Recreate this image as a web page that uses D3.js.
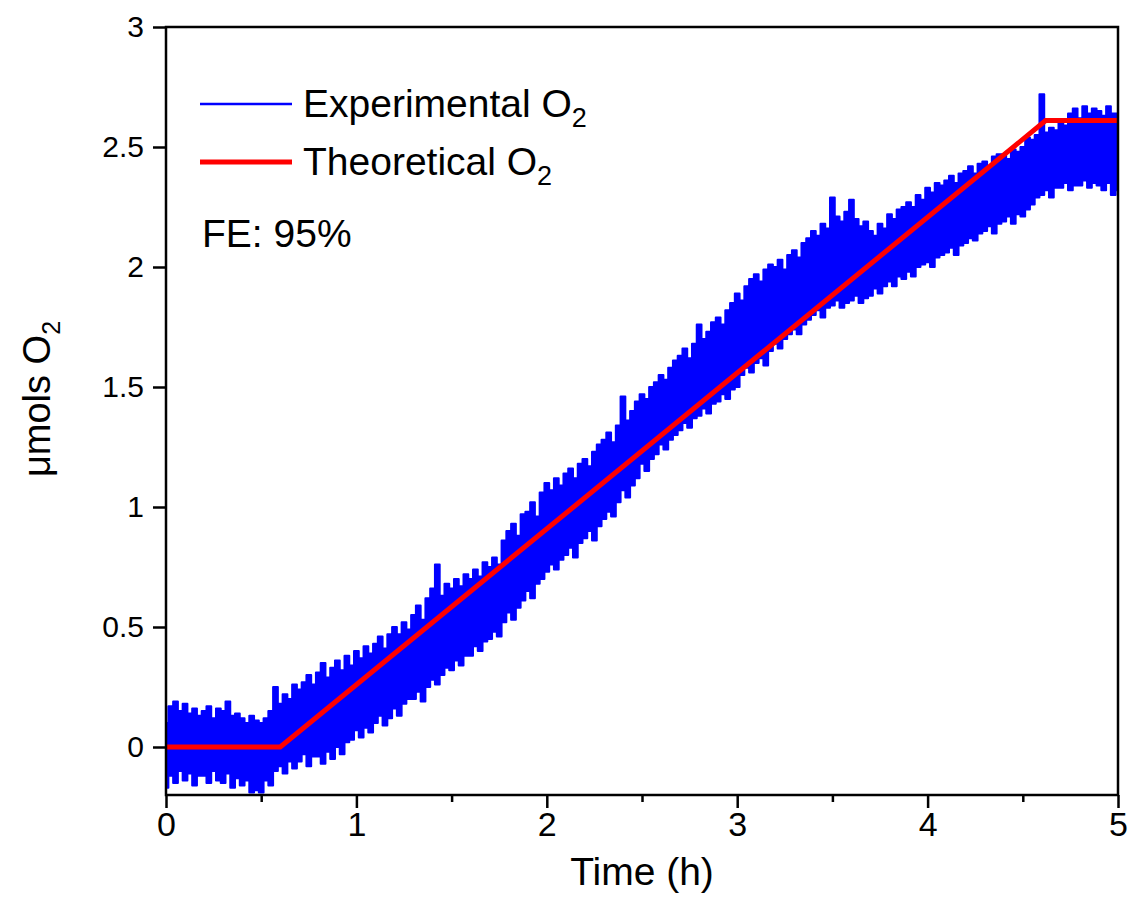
<!DOCTYPE html>
<html>
<head>
<meta charset="utf-8">
<script src="https://cdn.jsdelivr.net/npm/d3@7"></script>
<style>
  body { margin: 0; background: #fff; }
  text { font-family: Arial, "Liberation Sans", sans-serif; fill: #000; }
</style>
</head>
<body>
<svg id="chart" width="1132" height="917"></svg>
<script>
// time axis for the experimental trace, one reading every 0.025 h
const expStep = 0.025;
// upper edge of the noisy experimental O2 band (µmol)
const expHigh = [
  0.10, 0.17, 0.19, 0.15, 0.18, 0.14, 0.16, 0.13, 0.15, 0.17, 0.12, 0.16,
  0.15, 0.19, 0.13, 0.14, 0.12, 0.10, 0.13, 0.11, 0.10, 0.12, 0.15, 0.25,
  0.18, 0.22, 0.20, 0.26, 0.24, 0.27, 0.30, 0.26, 0.31, 0.35, 0.29, 0.33,
  0.36, 0.32, 0.38, 0.34, 0.40, 0.37, 0.42, 0.39, 0.43, 0.46, 0.41, 0.47,
  0.50, 0.47, 0.52, 0.49, 0.55, 0.59, 0.53, 0.62, 0.66, 0.76, 0.63, 0.68,
  0.66, 0.70, 0.67, 0.72, 0.70, 0.74, 0.71, 0.77, 0.75, 0.79, 0.76, 0.86,
  0.90, 0.93, 0.88, 0.97, 0.98, 1.02, 0.96, 1.06, 1.10, 1.07, 1.12, 1.09,
  1.14, 1.16, 1.12, 1.18, 1.20, 1.17, 1.23, 1.26, 1.28, 1.31, 1.27, 1.34,
  1.46, 1.36, 1.40, 1.44, 1.47, 1.45, 1.50, 1.52, 1.55, 1.53, 1.58, 1.61,
  1.63, 1.66, 1.62, 1.68, 1.76, 1.70, 1.73, 1.77, 1.79, 1.76, 1.82, 1.85,
  1.89, 1.86, 1.92, 1.95, 1.97, 1.94, 1.99, 2.01, 2.00, 2.03, 1.99, 2.05,
  2.07, 2.04, 2.10, 2.12, 2.15, 2.13, 2.18, 2.16, 2.29, 2.21, 2.19, 2.23,
  2.28, 2.20, 2.17, 2.19, 2.15, 2.13, 2.18, 2.16, 2.22, 2.20, 2.24, 2.25,
  2.27, 2.25, 2.30, 2.28, 2.33, 2.31, 2.35, 2.34, 2.36, 2.38, 2.35, 2.39,
  2.40, 2.42, 2.39, 2.43, 2.44, 2.42, 2.46, 2.47, 2.47, 2.45, 2.49, 2.48,
  2.50, 2.54, 2.53, 2.55, 2.72, 2.56, 2.58, 2.57, 2.60, 2.59, 2.64, 2.66,
  2.62, 2.67, 2.64, 2.66, 2.65, 2.63, 2.67, 2.64, 2.64
];
// lower edge of the same band
const expLow = [
  -0.17, -0.12, -0.15, -0.10, -0.14, -0.11, -0.16, -0.12, -0.12, -0.15, -0.10, -0.14,
  -0.15, -0.11, -0.17, -0.13, -0.16, -0.14, -0.19, -0.18, -0.19, -0.14, -0.16, -0.10,
  -0.08, -0.11, -0.06, -0.09, -0.06, -0.03, -0.08, -0.04, -0.04, -0.07, -0.02, -0.05,
  0.00, -0.03, 0.02, 0.03, 0.07, 0.04, 0.08, 0.06, 0.10, 0.13, 0.09, 0.12,
  0.16, 0.13, 0.18, 0.20, 0.20, 0.23, 0.19, 0.25, 0.28, 0.26, 0.30, 0.33,
  0.32, 0.36, 0.34, 0.38, 0.38, 0.42, 0.40, 0.44, 0.45, 0.48, 0.46, 0.52,
  0.56, 0.53, 0.58, 0.61, 0.65, 0.62, 0.68, 0.70, 0.73, 0.76, 0.74, 0.78,
  0.80, 0.83, 0.79, 0.85, 0.87, 0.90, 0.86, 0.92, 0.95, 0.98, 0.96, 1.02,
  1.07, 1.04, 1.09, 1.12, 1.18, 1.15, 1.20, 1.22, 1.26, 1.24, 1.28, 1.30,
  1.32, 1.35, 1.33, 1.37, 1.38, 1.41, 1.39, 1.43, 1.44, 1.47, 1.45, 1.49,
  1.50, 1.55, 1.58, 1.56, 1.60, 1.62, 1.59, 1.65, 1.68, 1.66, 1.70, 1.72,
  1.74, 1.72, 1.76, 1.78, 1.80, 1.82, 1.79, 1.83, 1.84, 1.86, 1.83, 1.85,
  1.86, 1.88, 1.85, 1.87, 1.88, 1.91, 1.89, 1.92, 1.94, 1.92, 1.96, 1.95,
  1.98, 1.96, 2.00, 2.01, 2.02, 2.00, 2.04, 2.05, 2.06, 2.08, 2.05, 2.09,
  2.10, 2.12, 2.11, 2.14, 2.15, 2.17, 2.14, 2.18, 2.19, 2.21, 2.18, 2.22,
  2.21, 2.24, 2.26, 2.29, 2.30, 2.32, 2.29, 2.33, 2.33, 2.35, 2.32, 2.34,
  2.34, 2.36, 2.33, 2.35, 2.34, 2.32, 2.35, 2.30, 2.32
];
// theoretical O2 from the passed charge
const theoTime = [0, 0.6, 4.62, 5];
const theoO2 = [0, 0, 2.61, 2.61];

const xTicks = [0, 1, 2, 3, 4, 5];
const xMinorTicks = [0.5, 1.5, 2.5, 3.5, 4.5];
const yTicks = [0, 0.5, 1, 1.5, 2, 2.5, 3];

const margin = {left: 166, top: 27, right: 14, bottom: 122};
const width = 1132 - margin.left - margin.right;
const height = 917 - margin.top - margin.bottom;

const svg = d3.select("#chart");
const g = svg.append("g")
  .attr("transform", "translate(" + margin.left + "," + margin.top + ")");

const x = d3.scaleLinear().domain([0, 5]).range([0, width]);
const y = d3.scaleLinear().domain([-0.2, 3]).range([height, 0]);

g.append("clipPath").attr("id", "plot-clip")
  .append("rect").attr("width", width).attr("height", height);

// experimental band
const expData = expHigh.map((h, i) => ({t: i * expStep, hi: h, lo: expLow[i]}));
const band = d3.area()
  .x(d => x(d.t))
  .y0(d => y(d.lo))
  .y1(d => y(d.hi))
  .curve(d3.curveStep);

g.append("path")
  .datum(expData)
  .attr("clip-path", "url(#plot-clip)")
  .attr("d", band)
  .attr("fill", "#0000ff")
  .attr("stroke", "#0000ff")
  .attr("stroke-width", 2)
  .attr("stroke-linejoin", "round");

// theoretical line
const theoData = theoTime.map((t, i) => ({t: t, v: theoO2[i]}));
g.append("path")
  .datum(theoData)
  .attr("d", d3.line().x(d => x(d.t)).y(d => y(d.v)))
  .attr("fill", "none")
  .attr("stroke", "#ff0000")
  .attr("stroke-width", 5);

// axes
const xAxis = g.append("g")
  .attr("transform", "translate(0," + height + ")")
  .call(d3.axisBottom(x).tickValues(xTicks).tickSize(13).tickPadding(4).tickFormat(d3.format("~g")));
xAxis.select(".domain").remove();
xAxis.selectAll("line").attr("stroke-width", 2.5);
xAxis.selectAll("text").style("font-size", "34px").attr("dy", "0.72em");

g.append("g")
  .attr("transform", "translate(0," + height + ")")
  .call(d3.axisBottom(x).tickValues(xMinorTicks).tickSize(7).tickFormat(""))
  .call(a => a.select(".domain").remove())
  .selectAll("line").attr("stroke-width", 2.5);

const yAxis = g.append("g")
  .call(d3.axisLeft(y).tickValues(yTicks).tickSize(13).tickPadding(9).tickFormat(d3.format("~g")));
yAxis.select(".domain").remove();
yAxis.selectAll("line").attr("stroke-width", 2.5);
yAxis.selectAll("text").style("font-size", "30px");

// frame
g.append("rect")
  .attr("width", width).attr("height", height)
  .attr("fill", "none").attr("stroke", "#000").attr("stroke-width", 2.5);

// axis titles
svg.append("text")
  .attr("x", margin.left + width / 2).attr("y", 885)
  .attr("text-anchor", "middle")
  .style("font-size", "39px")
  .text("Time (h)");

const yTitle = svg.append("text")
  .attr("transform", "translate(50," + (margin.top + y(1.45)) + ") rotate(-90)")
  .attr("text-anchor", "middle")
  .style("font-size", "38px");
yTitle.append("tspan").text("μmols O");
yTitle.append("tspan").attr("dy", 10).style("font-size", "25px").text("2");

// legend
const legend = [
  {label: "Experimental O", color: "#0000ff", width: 2.5},
  {label: "Theoretical O", color: "#ff0000", width: 5}
];
const lg = svg.append("g").attr("transform", "translate(200,104)");
legend.forEach((d, i) => {
  const row = lg.append("g").attr("transform", "translate(0," + i * 58 + ")");
  row.append("line").attr("x1", 0).attr("x2", 92)
    .attr("stroke", d.color).attr("stroke-width", d.width);
  const t = row.append("text").attr("x", 103).attr("y", 13).style("font-size", "39px");
  t.append("tspan").text(d.label);
  t.append("tspan").attr("dy", 10).style("font-size", "27px").text("2");
});

svg.append("text")
  .attr("x", 202).attr("y", 247)
  .style("font-size", "39px")
  .text("FE: 95%");
</script>
</body>
</html>
